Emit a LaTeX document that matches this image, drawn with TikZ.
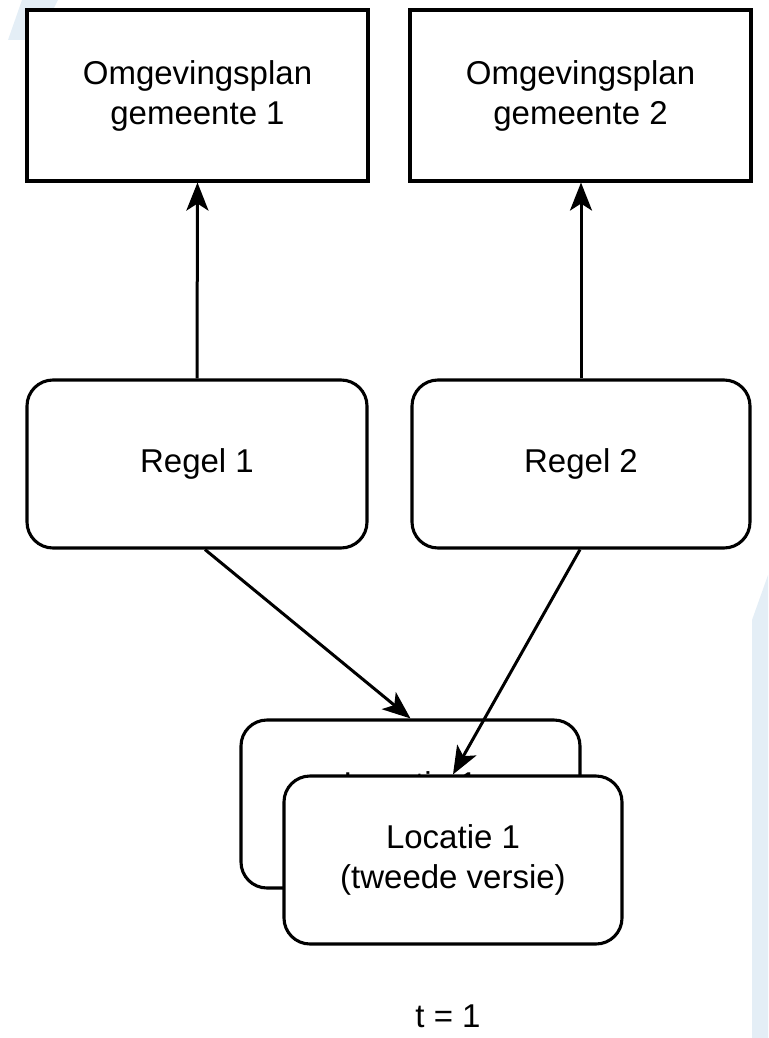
\documentclass[tikz,border=0pt]{standalone}
\usepackage{fontspec}
\setmainfont{Liberation Sans}
\usetikzlibrary{arrows.meta,calc}
\definecolor{wm}{RGB}{228,238,246}
\tikzset{
  box/.style={draw=black, line width=3.1pt, fill=white, minimum width=#1, inner sep=0pt, align=center, font=\fontsize{33}{40}\selectfont},
  rbox/.style={box=#1, rounded corners=26pt},
  conn/.style={line width=3pt, -{Stealth[length=28pt,width=22pt,inset=7pt]}},
  lbl/.style={font=\fontsize{33}{40}\selectfont, inner sep=0pt}
}
\begin{document}
\begin{tikzpicture}[x=1pt,y=-1pt]
\useasboundingbox (0,0) rectangle (768,1038);
% faint watermark shapes
\fill[wm] (22,0) -- (58,0) -- (38,40) -- (8,40) -- cycle;
\fill[wm] (768,575) -- (768,1038) -- (752,1038) -- (752,620) -- cycle;
% top boxes
\node[box=341pt, minimum height=171pt] (O1) at (197.5,95.5) {Omgevingsplan\\gemeente 1};
\node[box=341pt, minimum height=171pt] (O2) at (580.5,95.5) {Omgevingsplan\\gemeente 2};
% rules
\node[rbox=340pt, minimum height=168pt] (R1) at (197,464) {Regel 1};
\node[rbox=338pt, minimum height=168pt] (R2) at (581,464) {Regel 2};
% back location box
\node[rbox=339pt, minimum height=168pt] (L0) at (410.5,804) {};
\node[lbl] (L0t) at (410.5,784) {Locatie 1};
% connectors
\draw[conn] (R1.north) -- (O1.south);
\draw[conn] (R2.north) -- (R2.north |- O2.south);
\coordinate (R1s) at ($(R1.south)+(8,0)$);
\draw[conn] (R1s) -- (L0.north);
% front location box
\node[rbox=338pt, minimum height=168pt] (L1) at (453,860) {Locatie 1\\(tweede versie)};
\coordinate (R2s) at ($(R2.south)+(-1,0)$);
\draw[conn] (R2s) -- (L1.north);
% time label
\node[lbl] (t) at (448,1016) {t = 1};
\end{tikzpicture}
\end{document}
